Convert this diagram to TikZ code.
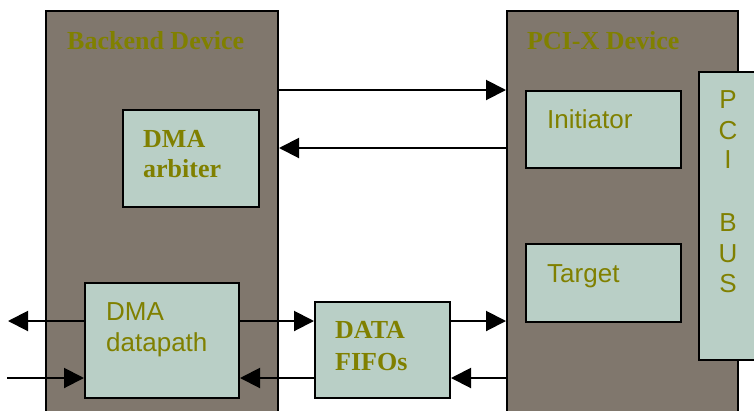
\documentclass[tikz,border=0pt]{standalone}
\usepackage{fontspec}
\setmainfont{Liberation Serif}
\newfontfamily\arialf{Liberation Sans}
\usetikzlibrary{arrows.meta}
\definecolor{devfill}{RGB}{128,119,109}
\definecolor{subfill}{RGB}{185,207,198}
\definecolor{olivetext}{RGB}{128,128,0}
\begin{document}
\begin{tikzpicture}[x=1pt,y=-1pt,
  devbox/.style={rectangle,draw=black,line width=2pt,fill=devfill,inner sep=0pt,anchor=north west},
  subbox/.style={rectangle,draw=black,line width=2pt,fill=subfill,inner sep=0pt,anchor=north west},
  seriflbl/.style={font=\fontsize{26}{31}\selectfont\bfseries,text=olivetext,inner sep=0pt,anchor=base west},
  sanslbl/.style={font=\arialf\fontsize{26}{31}\selectfont,text=olivetext,inner sep=0pt,anchor=base west},
  busletter/.style={font=\arialf\fontsize{26}{31}\selectfont,text=olivetext,inner sep=0pt,anchor=base},
  conn/.style={line width=2pt,-{Triangle[length=20pt,width=20pt]}}]
\useasboundingbox (0,0) rectangle (754,410);
\clip (0,0) rectangle (754,410);
% big device boxes
\node[devbox,minimum width=232pt,minimum height=420pt] (backend) at (45,10) {};
\node[devbox,minimum width=231pt,minimum height=420pt] (pcix) at (506,10) {};
\node[subbox,minimum width=70pt,minimum height=288pt] (pcibus) at (698,71) {};
% inner boxes
\node[subbox,minimum width=136pt,minimum height=97pt] (arbiter) at (122,109) {};
\node[subbox,minimum width=155pt,minimum height=77pt] (initiator) at (525,90) {};
\node[subbox,minimum width=155pt,minimum height=78pt] (target) at (525,243) {};
\node[subbox,minimum width=154pt,minimum height=115pt] (datapath) at (84,282) {};
\node[subbox,minimum width=135pt,minimum height=96pt] (fifo) at (314,301) {};
% labels
\node[seriflbl] (lbackend) at (67,49) {Backend Device};
\node[seriflbl] (lpcix) at (527,49) {PCI-X Device};
\node[seriflbl] (larb1) at (143,147) {DMA};
\node[seriflbl] (larb2) at (143,177) {arbiter};
\node[sanslbl] (linit) at (547,128) {Initiator};
\node[sanslbl] (ltarget) at (547,282) {Target};
\node[sanslbl] (ldp1) at (106,320) {DMA};
\node[sanslbl] (ldp2) at (106,351) {datapath};
\node[seriflbl] (lfifo1) at (335,338) {DATA};
\node[seriflbl] (lfifo2) at (335,370) {FIFOs};
\node[busletter] (bP) at (728,108) {P};
\node[busletter] (bC) at (728,139) {C};
\node[busletter] (bI) at (728,168) {I};
\node[busletter] (bB) at (728,231) {B};
\node[busletter] (bU) at (728,262) {U};
\node[busletter] (bS) at (728,292) {S};
% helper coordinates
\coordinate (ya) at (0,90);
\coordinate (yb) at (0,148);
\coordinate (yc) at (0,321);
\coordinate (yd) at (0,378);
\coordinate (lout) at (8,321);
\coordinate (lin) at (7,378);
% connectors
\draw[conn] (backend.east |- ya) -- (pcix.west |- ya);
\draw[conn] (pcix.west |- yb) -- (backend.east |- yb);
\draw[conn] (datapath.west |- yc) -- (lout);
\draw[conn] (lin) -- (datapath.west |- yd);
\draw[conn] (datapath.east |- yc) -- (fifo.west |- yc);
\draw[conn] (fifo.east |- yc) -- (pcix.west |- yc);
\draw[conn] (pcix.west |- yd) -- (fifo.east |- yd);
\draw[conn] (fifo.west |- yd) -- (datapath.east |- yd);
\end{tikzpicture}
\end{document}
